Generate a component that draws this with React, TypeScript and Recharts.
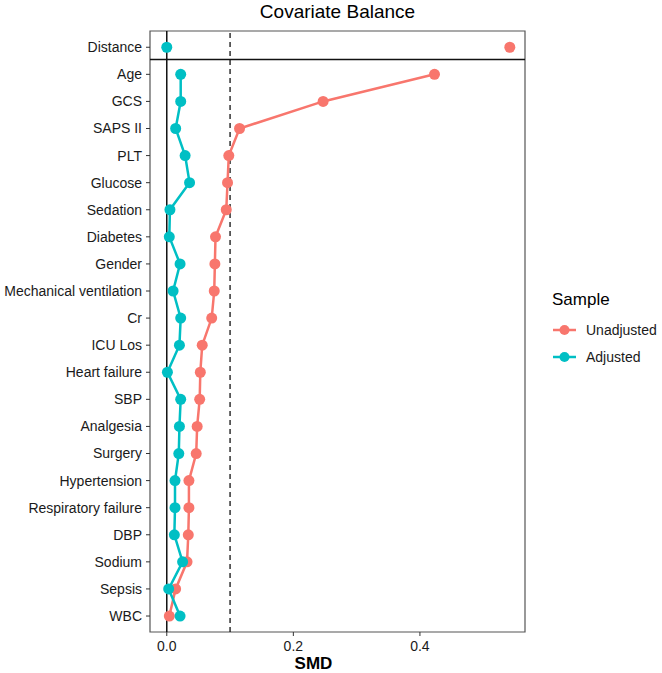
import React from 'react';
import { ScatterChart, Scatter, XAxis, YAxis, ReferenceLine, ReferenceArea } from 'recharts';

// Covariates listed top to bottom; the first one sits in its own strip
const covariates = [
  'Distance', 'Age', 'GCS', 'SAPS II', 'PLT', 'Glucose', 'Sedation', 'Diabetes',
  'Gender', 'Mechanical ventilation', 'Cr', 'ICU Los', 'Heart failure', 'SBP',
  'Analgesia', 'Surgery', 'Hypertension', 'Respiratory failure', 'DBP', 'Sodium',
  'Sepsis', 'WBC',
];

const unadjusted = [
  0.542, 0.423, 0.247, 0.115, 0.098, 0.096, 0.094, 0.077, 0.076, 0.075, 0.071,
  0.056, 0.053, 0.052, 0.048, 0.0465, 0.035, 0.035, 0.034, 0.032, 0.014, 0.004,
];

const adjusted = [
  0.0, 0.022, 0.022, 0.014, 0.029, 0.036, 0.005, 0.004, 0.021, 0.010, 0.022,
  0.020, 0.001, 0.022, 0.020, 0.019, 0.013, 0.013, 0.012, 0.025, 0.003, 0.021,
];

const xTicks = [0, 0.2, 0.4];
const threshold = 0.1;

const RED = '#F8766D';
const TEAL = '#00BFC4';
const FONT = '"Liberation Sans", Arial, Helvetica, sans-serif';

const X_DOMAIN: [number, number] = [-0.0265, 0.566];
const Y_DOMAIN: [number, number] = [-0.59, 21.6];

const rowOf = (i: number) => covariates.length - 1 - i;
const rowTicks = covariates.map((_, i) => rowOf(i));
const labelOf = (row: number) => covariates[covariates.length - 1 - row] ?? '';

const toPoints = (values: number[]) =>
  values.map((smd, i) => ({ smd, row: rowOf(i), name: covariates[i] }));

const unadjustedMain = toPoints(unadjusted).slice(1);
const adjustedMain = toPoints(adjusted).slice(1);
const unadjustedDist = toPoints(unadjusted).slice(0, 1);
const adjustedDist = toPoints(adjusted).slice(0, 1);

const dot = (color: string) => (props: any) => (
  <circle cx={props.cx} cy={props.cy} r={5.5} fill={color} />
);

const LegendKey = ({ color, label }: { color: string; label: string }) => (
  <div style={{ display: 'flex', alignItems: 'center', height: 27.5 }}>
    <svg width={34} height={14}>
      <line x1={1} y1={7} x2={24} y2={7} stroke={color} strokeWidth={2.5} />
      <circle cx={12.5} cy={7} r={5} fill={color} />
    </svg>
    <span style={{ fontSize: 14, color: '#1a1a1a' }}>{label}</span>
  </div>
);

export default function App() {
  return (
    <div style={{ position: 'absolute', left: 0, top: 0, width: 662, height: 673, background: '#fff', fontFamily: FONT }}>
      <div style={{ position: 'absolute', left: 150, width: 375, top: 0, textAlign: 'center', fontSize: 19, color: '#000', lineHeight: '24px' }}>
        Covariate Balance
      </div>
      <ScatterChart width={662} height={673} margin={{ top: 31, right: 137, bottom: 0, left: 0 }}>
        <XAxis
          type="number"
          dataKey="smd"
          domain={X_DOMAIN}
          ticks={xTicks}
          allowDataOverflow
          tickFormatter={(v: number) => v.toFixed(1)}
          tick={{ fill: '#1a1a1a', fontSize: 14, fontFamily: FONT }}
          tickSize={4}
          tickMargin={5}
          tickLine={{ stroke: '#333' }}
          axisLine={false}
          height={41}
          label={{ value: 'SMD', position: 'insideBottom', offset: 4, dx: -24, style: { fontSize: 17, fontWeight: 'bold', fill: '#000', fontFamily: FONT } }}
        />
        <YAxis
          type="number"
          dataKey="row"
          domain={Y_DOMAIN}
          ticks={rowTicks}
          allowDataOverflow
          interval={0}
          tickFormatter={labelOf}
          tick={{ fill: '#1a1a1a', fontSize: 14, fontFamily: FONT }}
          tickSize={4}
          tickMargin={4}
          tickLine={{ stroke: '#333' }}
          axisLine={false}
          width={150}
        />
        <ReferenceArea
          x1={X_DOMAIN[0]}
          x2={X_DOMAIN[1]}
          y1={Y_DOMAIN[0]}
          y2={Y_DOMAIN[1]}
          fill="none"
          stroke="#555"
          strokeWidth={1.2}
          ifOverflow="visible"
        />
        <ReferenceLine y={20.55} stroke="#111" strokeWidth={1.5} />
        <ReferenceLine x={0} stroke="#111" strokeWidth={1.5} />
        <ReferenceLine x={threshold} stroke="#111" strokeWidth={1.3} strokeDasharray="5 4" />
        <Scatter
          name="Unadjusted"
          data={unadjustedMain}
          line={{ stroke: RED, strokeWidth: 2.5 }}
          shape={dot(RED)}
          isAnimationActive={false}
        />
        <Scatter
          name="Adjusted"
          data={adjustedMain}
          line={{ stroke: TEAL, strokeWidth: 2.5 }}
          shape={dot(TEAL)}
          isAnimationActive={false}
        />
        <Scatter data={unadjustedDist} shape={dot(RED)} isAnimationActive={false} />
        <Scatter data={adjustedDist} shape={dot(TEAL)} isAnimationActive={false} />
      </ScatterChart>
      <div style={{ position: 'absolute', left: 552, top: 288 }}>
        <div style={{ fontSize: 17, color: '#000', lineHeight: '24px', marginBottom: 4 }}>Sample</div>
        <LegendKey color={RED} label="Unadjusted" />
        <LegendKey color={TEAL} label="Adjusted" />
      </div>
    </div>
  );
}
